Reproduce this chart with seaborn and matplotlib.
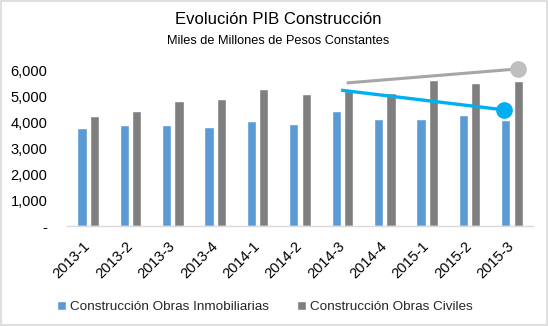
import matplotlib
matplotlib.use("Agg")
import matplotlib.pyplot as plt
import seaborn as sns
import pandas as pd
from matplotlib.patches import Rectangle
from matplotlib.ticker import FuncFormatter
from matplotlib.transforms import ScaledTranslation

periods = ["2013-1", "2013-2", "2013-3", "2013-4", "2014-1", "2014-2",
           "2014-3", "2014-4", "2015-1", "2015-2", "2015-3"]
inmobiliarias = [3780, 3900, 3900, 3820, 4050, 3940, 4440, 4130, 4130, 4290, 4090]
civiles = [4250, 4440, 4830, 4900, 5290, 5100, 5200, 5130, 5640, 5520, 5600]
series_names = ["Construcción Obras Inmobiliarias", "Construcción Obras Civiles"]

# trend annotations (category position, value)
gray_trend_x = [6.1, 10.13]
gray_trend_y = [5520, 6060]
blue_trend_x = [5.97, 9.82]
blue_trend_y = [5240, 4480]

title = "Evolución PIB Construcción"
subtitle = "Miles de Millones de Pesos Constantes"

df = pd.DataFrame({
    "periodo": periods * 2,
    "valor": inmobiliarias + civiles,
    "serie": [series_names[0]] * len(periods) + [series_names[1]] * len(periods),
})

sns.set_theme(style="white")
plt.rcParams["font.family"] = ["Liberation Sans", "DejaVu Sans"]

fig = plt.figure(figsize=(5.48, 3.26), dpi=100)
ax = fig.add_axes([0.122, 0.3067, 0.851, 0.477])

sns.barplot(data=df, x="periodo", y="valor", hue="serie", order=periods,
            hue_order=series_names, palette=["#5B9BD5", "#7F7F7F"],
            width=0.585, gap=0.25, saturation=1, ax=ax, legend=True)

ax.plot(gray_trend_x, gray_trend_y, color="#A6A6A6", lw=2.2, clip_on=False,
        solid_capstyle="butt", zorder=5)
ax.plot(gray_trend_x[-1:], gray_trend_y[-1:], "o", color="#BFBFBF", ms=11,
        clip_on=False, zorder=6)
ax.plot(blue_trend_x, blue_trend_y, color="#00B0F0", lw=2.4, clip_on=False,
        solid_capstyle="butt", zorder=5)
ax.plot(blue_trend_x[-1:], blue_trend_y[-1:], "o", color="#00B0F0", ms=11,
        clip_on=False, zorder=6)

ax.set_ylim(0, 6000)
ax.set_xlim(-0.5, len(periods) - 0.5)
ax.set_yticks(range(0, 6001, 1000))
ax.yaxis.set_major_formatter(FuncFormatter(lambda v, p: "-" if v == 0 else f"{int(v):,}"))
ax.tick_params(axis="y", labelsize=10.5, pad=14, length=0, colors="black")
ax.tick_params(axis="x", labelsize=10.5, length=0, pad=5, colors="black")
shift = ScaledTranslation(-5 / 100, -6 / 100, fig.dpi_scale_trans)
for lab in ax.get_xticklabels():
    lab.set_rotation(45)
    lab.set_ha("right")
    lab.set_rotation_mode("anchor")
    lab.set_transform(lab.get_transform() + shift)
ax.set_xlabel("")
ax.set_ylabel("")
for s in ["top", "right", "left"]:
    ax.spines[s].set_visible(False)
ax.spines["bottom"].set_color("#D9D9D9")
ax.spines["bottom"].set_linewidth(1)

leg = ax.legend(loc="lower center", bbox_to_anchor=(0.425, -0.64), ncol=2,
                frameon=False, fontsize=9.7, handlelength=0.65, handleheight=0.65,
                handletextpad=0.3, columnspacing=2.1)

fig.text(0.508, 0.94, title, ha="center", va="center", fontsize=12, color="black")
fig.text(0.508, 0.875, subtitle, ha="center", va="center", fontsize=9.2, color="black")

fig.patches.append(Rectangle((0.002, 0.003), 0.996, 0.994, transform=fig.transFigure,
                             fill=False, edgecolor="#D9D9D9", lw=1.2))

fig.savefig("out.png", dpi=100)
